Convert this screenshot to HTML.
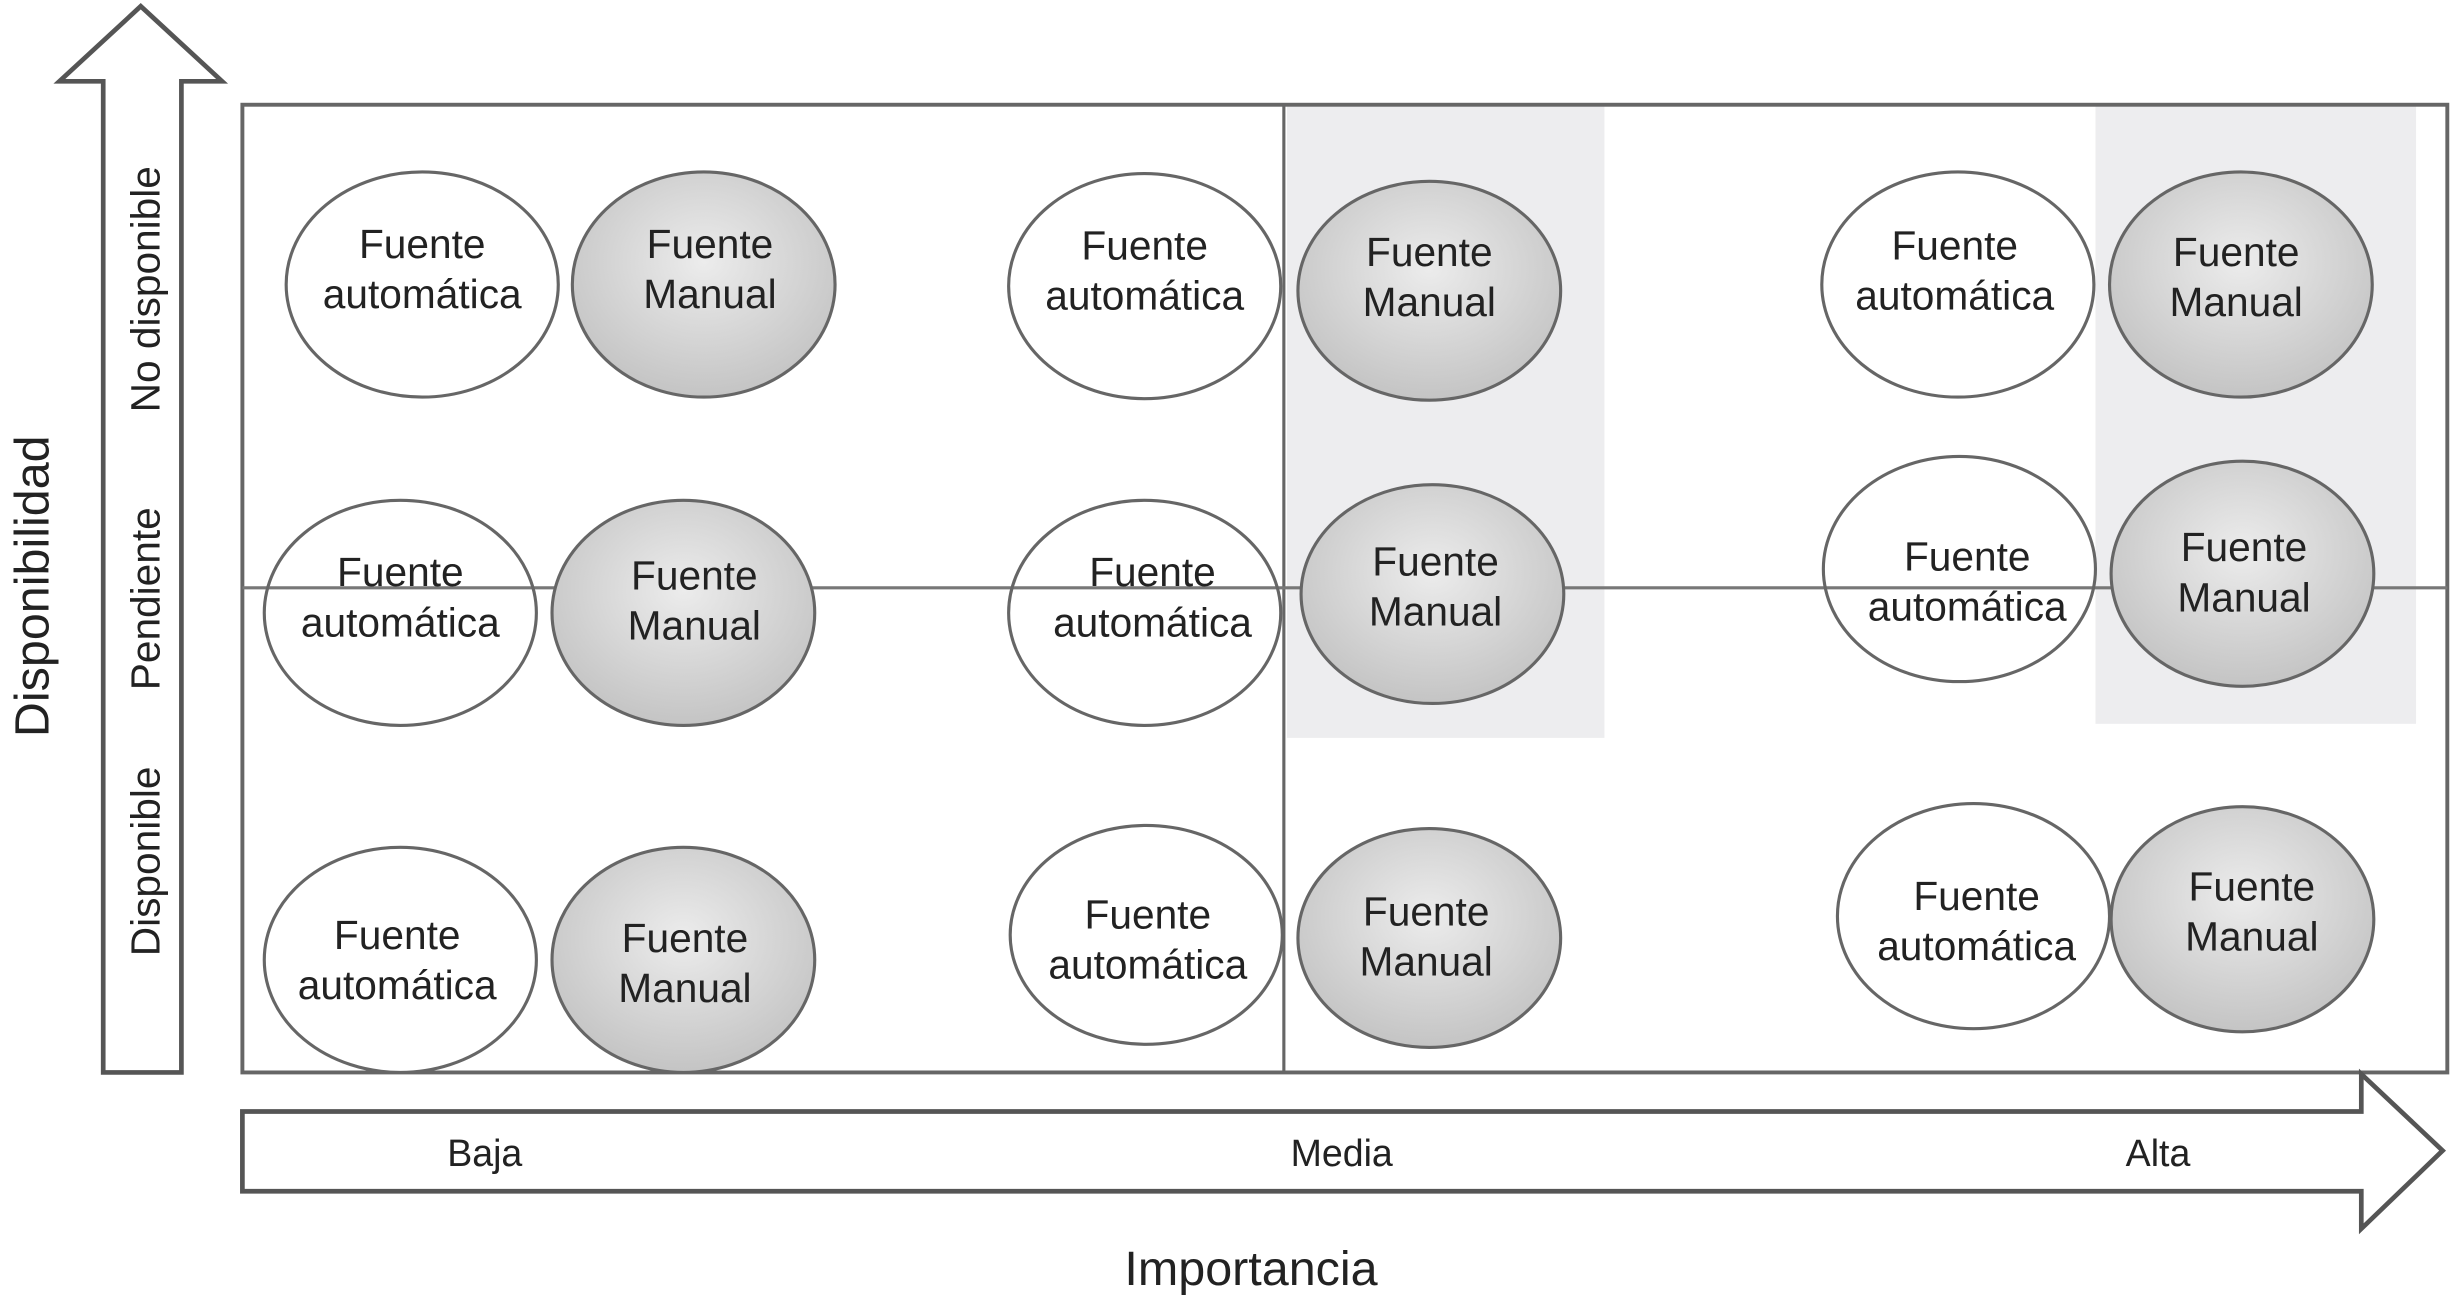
<!DOCTYPE html>
<html><head><meta charset="utf-8"><style>
html,body{margin:0;padding:0;background:#fff;width:2452px;height:1296px;overflow:hidden}
svg{display:block}
text{font-family:"Liberation Sans",Arial,sans-serif;fill:#222}
</style></head><body>
<svg width="2452" height="1296" viewBox="0 0 1568 829" preserveAspectRatio="none" xmlns="http://www.w3.org/2000/svg">
<defs>
<radialGradient id="g" cx="50%" cy="40%" r="60%">
<stop offset="0" stop-color="#ececec"/><stop offset="1" stop-color="#c4c4c4"/>
</radialGradient>
</defs>
<rect x="823" y="68" width="203" height="404" fill="#ededef"/>
<rect x="1340" y="68" width="205" height="395" fill="#ededef"/>
<rect x="155" y="67" width="1410" height="619" fill="none" stroke="#666" stroke-width="2.5"/>
<line x1="821" y1="67" x2="821" y2="686" stroke="#666" stroke-width="2"/>
<line x1="155" y1="376" x2="1565" y2="376" stroke="#777" stroke-width="2"/>
<polygon points="66,686 116,686 116,52 142,52 90,4 38,52 66,52" fill="#fff" stroke="#555" stroke-width="3"/>
<polygon points="155,711 1510,711 1510,687 1562,736 1510,786 1510,762 155,762" fill="#fff" stroke="#555" stroke-width="3"/>
<g stroke="#666" stroke-width="2">
<ellipse cx="270" cy="182" rx="87" ry="72" fill="#fff"/>
<ellipse cx="450" cy="182" rx="84" ry="72" fill="url(#g)"/>
<ellipse cx="732" cy="183" rx="87" ry="72" fill="#fff"/>
<ellipse cx="914" cy="186" rx="84" ry="70" fill="url(#g)"/>
<ellipse cx="1252" cy="182" rx="87" ry="72" fill="#fff"/>
<ellipse cx="1433" cy="182" rx="84" ry="72" fill="url(#g)"/>
<ellipse cx="256" cy="392" rx="87" ry="72" fill="none"/>
<ellipse cx="437" cy="392" rx="84" ry="72" fill="url(#g)"/>
<ellipse cx="732" cy="392" rx="87" ry="72" fill="none"/>
<ellipse cx="916" cy="380" rx="84" ry="70" fill="url(#g)"/>
<ellipse cx="1253" cy="364" rx="87" ry="72" fill="none"/>
<ellipse cx="1434" cy="367" rx="84" ry="72" fill="url(#g)"/>
<ellipse cx="256" cy="614" rx="87" ry="72" fill="#fff"/>
<ellipse cx="437" cy="614" rx="84" ry="72" fill="url(#g)"/>
<ellipse cx="733" cy="598" rx="87" ry="70" fill="#fff"/>
<ellipse cx="914" cy="600" rx="84" ry="70" fill="url(#g)"/>
<ellipse cx="1262" cy="586" rx="87" ry="72" fill="#fff"/>
<ellipse cx="1434" cy="588" rx="84" ry="72" fill="url(#g)"/>
</g>
<g font-size="26" text-anchor="middle">
<text x="270" y="165">Fuente</text><text x="270" y="197">automática</text>
<text x="454" y="165">Fuente</text><text x="454" y="197">Manual</text>
<text x="732" y="166">Fuente</text><text x="732" y="198">automática</text>
<text x="914" y="170">Fuente</text><text x="914" y="202">Manual</text>
<text x="1250" y="166">Fuente</text><text x="1250" y="198">automática</text>
<text x="1430" y="170">Fuente</text><text x="1430" y="202">Manual</text>
<text x="256" y="375">Fuente</text><text x="256" y="407">automática</text>
<text x="444" y="377">Fuente</text><text x="444" y="409">Manual</text>
<text x="737" y="375">Fuente</text><text x="737" y="407">automática</text>
<text x="918" y="368">Fuente</text><text x="918" y="400">Manual</text>
<text x="1258" y="365">Fuente</text><text x="1258" y="397">automática</text>
<text x="1435" y="359">Fuente</text><text x="1435" y="391">Manual</text>
<text x="254" y="607">Fuente</text><text x="254" y="639">automática</text>
<text x="438" y="609">Fuente</text><text x="438" y="641">Manual</text>
<text x="734" y="594">Fuente</text><text x="734" y="626">automática</text>
<text x="912" y="592">Fuente</text><text x="912" y="624">Manual</text>
<text x="1264" y="582">Fuente</text><text x="1264" y="614">automática</text>
<text x="1440" y="576">Fuente</text><text x="1440" y="608">Manual</text>
</g>
<g font-size="24" text-anchor="middle">
<text x="310" y="746">Baja</text>
<text x="858" y="746">Media</text>
<text x="1380" y="746">Alta</text>
</g>
<g font-size="26" text-anchor="middle">
<text transform="translate(102,185) rotate(-90)">No disponible</text>
<text transform="translate(102,383) rotate(-90)">Pendiente</text>
<text transform="translate(102,551) rotate(-90)">Disponible</text>
</g>
<text x="800" y="822" font-size="31" text-anchor="middle">Importancia</text>
<text transform="translate(31,375) rotate(-90)" font-size="31" text-anchor="middle">Disponibilidad</text>
</svg>
</body></html>
